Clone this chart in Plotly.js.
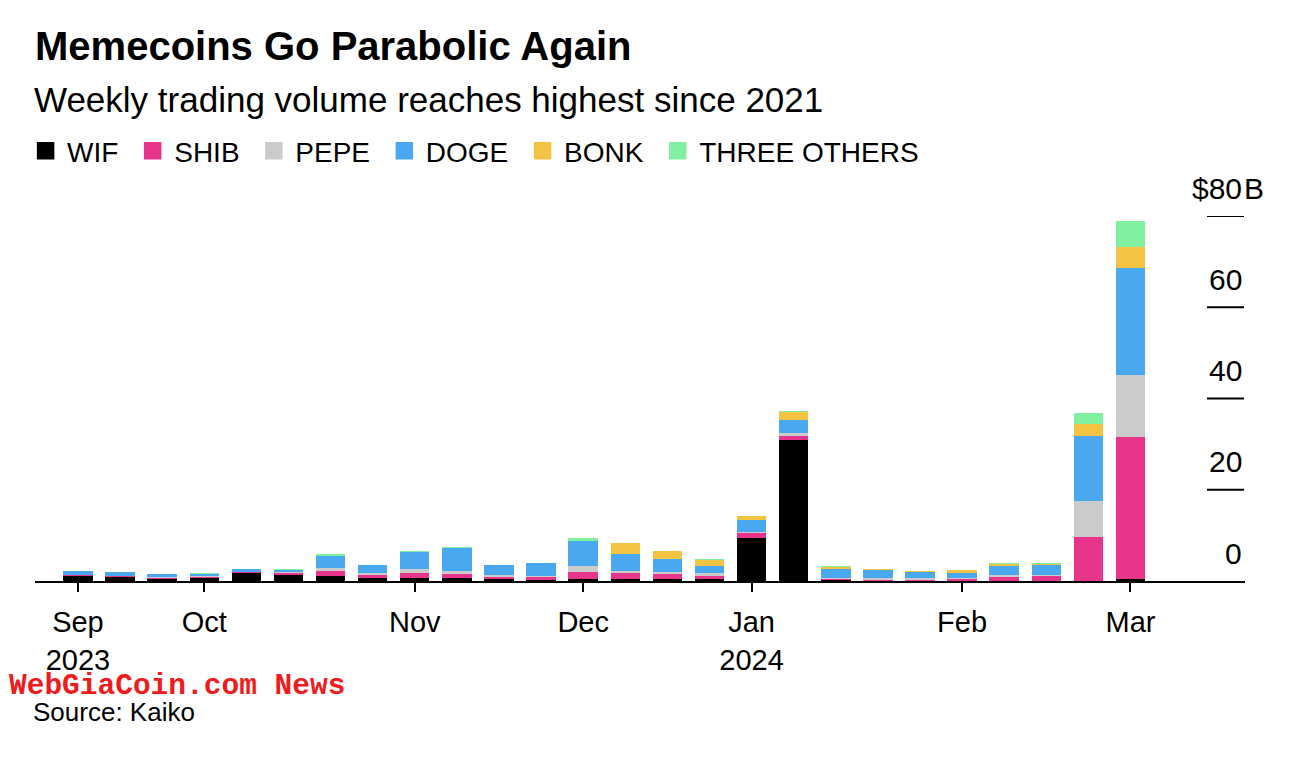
<!DOCTYPE html>
<html>
<head>
<meta charset="utf-8">
<script src="https://cdn.plot.ly/plotly-3.0.1.min.js"></script>
<style>
  html, body { margin: 0; padding: 0; background: #fff; }
  #chart { width: 1314px; height: 766px; }
</style>
</head>
<body>
<div id="chart"></div>
<script>
// ---- data ----
const weeks = ['2023-09-11','2023-09-18','2023-09-25','2023-10-02','2023-10-09','2023-10-16','2023-10-23','2023-10-30',
  '2023-11-06','2023-11-13','2023-11-20','2023-11-27','2023-12-04','2023-12-11','2023-12-18','2023-12-25',
  '2024-01-01','2024-01-08','2024-01-15','2024-01-22','2024-01-29','2024-02-05','2024-02-12','2024-02-19','2024-02-26','2024-03-04'];
const seriesNames = ['WIF','SHIB','PEPE','DOGE','BONK','THREE OTHERS'];
const seriesColors = ['#000000','#e6358b','#cbcbcb','#4aa8f0','#f3c444','#81f0a0'];
const wif    = [1.0,0.8,0.5,0.6,1.7,1.4,1.1,0.6,0.6,0.7,0.35,0.2,0.35,0.35,0.5,0.5,9.5,30.9,0.15,0.1,0.1,0.1,0.1,0.1,0.1,0.5];
const shib   = [0.3,0.2,0.2,0.2,0.2,0.3,1.1,0.7,1.25,0.9,0.6,0.7,1.6,1.3,0.95,0.6,0.95,0.9,0.2,0.15,0.15,0.3,0.7,0.95,9.65,31.0];
const pepe   = [0.1,0.15,0.2,0.2,0.15,0.2,0.7,0.35,0.7,0.6,0.35,0.3,1.3,0.65,0.6,0.6,0.4,0.7,0.2,0.35,0.35,0.35,0.5,0.3,7.7,13.7];
const doge   = [0.8,0.8,0.6,0.6,0.5,0.6,2.5,1.75,3.9,5.0,2.2,2.7,5.5,3.65,2.7,1.6,2.5,2.8,2.1,1.8,1.45,1.1,2.05,2.05,14.25,23.3];
const bonk   = [0,0,0,0,0,0,0,0,0,0,0,0,0,2.4,1.75,1.4,0.8,1.8,0.5,0.3,0.1,0.5,0.4,0.3,2.8,4.8];
const others = [0.05,0.05,0.05,0.05,0.05,0.1,0.6,0.1,0.05,0.2,0.05,0.1,0.7,0.05,0.05,0.05,0.1,0.1,0.03,0.03,0.03,0.03,0.3,0.3,2.3,5.5];
const seriesValues = [wif, shib, pepe, doge, bonk, others];
const tickWeeks = ['2023-09-11','2023-10-02','2023-11-06','2023-12-04','2024-01-01','2024-02-05','2024-03-04'];
const tickLabels = ['Sep<br>2023','Oct','Nov','Dec','Jan<br>2024','Feb','Mar'];
const yTickVals = [0,20,40,60,80];
const yTickLabels = ['0','20','40','60','$80'];
const yUnit = 'B';

// ---- chart ----
const FONT = 'Liberation Sans, Arial, Helvetica, sans-serif';
const barTraces = seriesNames.map((n, i) => ({
  type: 'bar', name: n, x: weeks, y: seriesValues[i], showlegend: false,
  marker: { color: seriesColors[i], line: { width: 0 } },
  hoverinfo: 'x+y+name'
}));
// legend-only entries (larger square keys like the reference)
const legendTraces = seriesNames.map((n, i) => ({
  type: 'scatter', mode: 'markers', name: n + '\u00a0', x: [null], y: [null], showlegend: true,
  marker: { symbol: 'square', size: 16, color: seriesColors[i], line: { width: 1.5, color: seriesColors[i] } },
  hoverinfo: 'skip'
}));

const tickX0 = (1207 - 35) / 1210, tickX1 = (1244 - 35) / 1210;
const shapes = yTickVals.filter(v => v > 0).map(v => ({
  type: 'line', xref: 'paper', yref: 'y', x0: tickX0, x1: tickX1, y0: v, y1: v,
  line: { color: '#000', width: 2 }
}));
const yFont = { family: FONT, size: 30, color: '#000' };
const annotations = yTickVals.map((v, i) => ({
  xref: 'paper', yref: 'y', x: tickX1, y: v, xanchor: 'right', yanchor: 'middle',
  yshift: 28, text: yTickLabels[i], showarrow: false, font: yFont
}));
annotations.push({
  xref: 'paper', yref: 'y', x: tickX1, y: yTickVals[yTickVals.length - 1], xanchor: 'left', yanchor: 'middle',
  yshift: 28, xshift: -2, text: yUnit, showarrow: false, font: yFont
});
annotations.push({
  xref: 'paper', yref: 'paper', x: 0, xshift: -3, y: (581 - 99) / 365, xanchor: 'left', yanchor: 'middle',
  text: 'Weekly trading volume reaches highest since 2021', showarrow: false,
  font: { family: FONT, size: 35, color: '#000' }
});
annotations.push({
  xref: 'paper', yref: 'paper', x: 0, xshift: -3, y: (581 - 712) / 365, xanchor: 'left', yanchor: 'middle',
  text: 'Source: Kaiko', showarrow: false, borderpad: 0,
  font: { family: FONT, size: 26, color: '#000' }
});
annotations.push({
  xref: 'paper', yref: 'paper', x: (10 - 35) / 1210, xshift: -2, y: (581 - 686) / 365, xanchor: 'left', yanchor: 'middle',
  text: '<b>WebGiaCoin.com News</b>', showarrow: false, borderpad: 0,
  font: { family: 'Liberation Mono, DejaVu Sans Mono, monospace', size: 29.5, color: '#ee1c1c' }
});

const layout = {
  width: 1314, height: 766,
  margin: { l: 35, r: 69, t: 216, b: 185 },
  paper_bgcolor: '#fff', plot_bgcolor: '#fff',
  font: { family: FONT, color: '#000' },
  title: {
    text: '<b>Memecoins Go Parabolic Again</b>',
    xref: 'paper', x: 0, xanchor: 'left',
    yref: 'container', y: 1 - 46 / 766, yanchor: 'middle',
    font: { family: FONT, size: 40, color: '#000' }
  },
  barmode: 'stack', bargap: 0.3,
  showlegend: true,
  legend: {
    orientation: 'h', x: -0.009, xanchor: 'left', y: (581 - 151) / 365, yanchor: 'middle',
    traceorder: 'normal', itemwidth: 33, itemsizing: 'trace',
    font: { family: FONT, size: 28, color: '#000' },
    bgcolor: 'rgba(0,0,0,0)'
  },
  xaxis: {
    type: 'category', range: [-1.02, 27.72],
    showline: true, linecolor: '#000', linewidth: 2,
    ticks: 'outside', ticklen: 9, tickwidth: 2, tickcolor: '#000',
    tickvals: tickWeeks, ticktext: tickLabels, ticklabelstandoff: 5,
    tickfont: { family: FONT, size: 29, color: '#000' },
    showgrid: false, zeroline: false, fixedrange: true
  },
  yaxis: {
    range: [0, 80], showticklabels: false, showgrid: false, zeroline: false,
    showline: false, ticks: '', fixedrange: true
  },
  shapes: shapes,
  annotations: annotations
};

Plotly.newPlot('chart', barTraces.concat(legendTraces), layout, { displayModeBar: false, staticPlot: true });
</script>
</body>
</html>
